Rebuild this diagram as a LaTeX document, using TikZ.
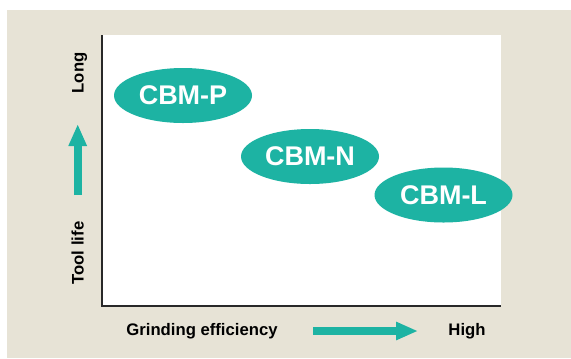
\documentclass[tikz,border=0pt]{standalone}
\usepackage{fontspec}
\setmainfont{Liberation Sans}
\usetikzlibrary{shapes.geometric,arrows.meta}
\definecolor{teal1}{RGB}{29,179,163}
\definecolor{beige1}{RGB}{231,227,214}
\definecolor{axis1}{RGB}{40,40,40}
\tikzset{
  grade/.style={ellipse, fill=teal1, text=white, minimum width=138bp, minimum height=55bp, inner sep=0pt,
    font=\bfseries\fontsize{27bp}{30bp}\selectfont},
  axlabel/.style={inner sep=0pt, font=\bfseries\fontsize{16.7bp}{19bp}\selectfont, text=black},
  bigarrow/.style={draw=teal1, line width=8bp, -{Triangle[width=17bp,length=22bp]}, color=teal1},
  axisline/.style={draw=axis1, line width=1.3bp}
}
\begin{document}
\begin{tikzpicture}[x=1bp,y=-1bp]
\useasboundingbox (0,0) rectangle (571,358);
\fill[beige1] (7,10) rectangle (571,358);
\fill[white] (102,35) rectangle (501,306);
\coordinate (o) at (102,306);
\coordinate (ytop) at (102,35);
\coordinate (xend) at (501,306);
\draw[axisline] (ytop) -- (o) -- (xend);
\node[grade] (p) at (183,95.5) {CBM-P};
\node[grade] (n) at (310,156.5) {CBM-N};
\node[grade] (l) at (443.5,195) {CBM-L};
\node[axlabel, rotate=90, anchor=base] (long) at (83.5,73) {Long};
\node[axlabel, rotate=90, anchor=base] (tool) at (83.5,253) {Tool life};
\node[axlabel, anchor=base] (ge) at (202,335) {Grinding efficiency};
\node[axlabel, anchor=base] (high) at (467,335.5) {High};
\coordinate (va) at (77.7,195);
\coordinate (vb) at (77.7,124);
\coordinate (ha) at (313,331);
\coordinate (hb) at (418,331);
\draw[bigarrow] (va) -- (vb);
\draw[bigarrow] (ha) -- (hb);
\end{tikzpicture}
\end{document}
